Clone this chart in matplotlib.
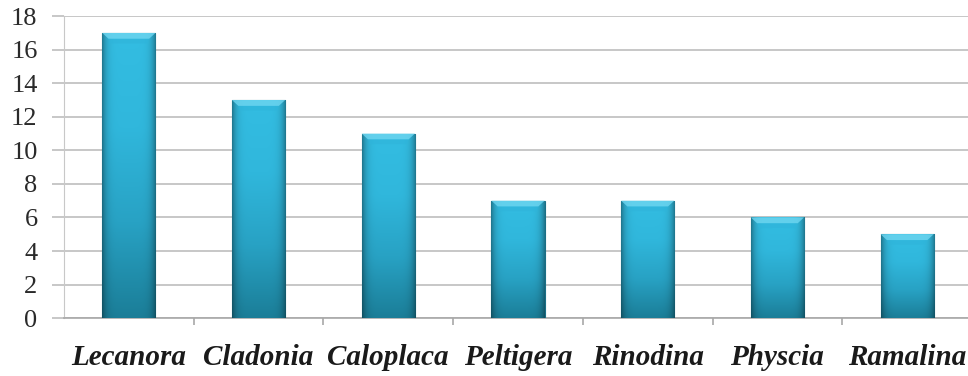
import matplotlib.pyplot as plt
import numpy as np
from matplotlib.colors import LinearSegmentedColormap

genera = ['Lecanora', 'Cladonia', 'Caloplaca', 'Peltigera', 'Rinodina', 'Physcia', 'Ramalina']
counts = [17, 13, 11, 7, 7, 6, 5]
yticks = np.arange(0, 19, 2)

fig = plt.figure(figsize=(9.68, 3.76), dpi=100)
ax = fig.add_axes([0.0661, 0.154, 0.938, 0.803])

x = np.arange(len(genera))
bw = 0.41
bars = ax.bar(x, counts, width=bw, color='#2aa9cc', edgecolor='#1a6f86', linewidth=0.8, zorder=3)

# shade each bar: light cyan at the top fading to teal, darker towards the sides
vert = LinearSegmentedColormap.from_list('v', ['#1b7e98', '#28a2c4', '#30b7dc', '#33bde2'])
gy = np.linspace(0, 1, 200)[:, None]
gx = np.linspace(-1, 1, 60)[None, :]
shade = vert(gy[::-1] * np.ones_like(gx))
side = 1 - 0.35 * np.abs(gx) ** 6
shade[..., :3] *= side[..., None]
for b in bars:
    x0, y0 = b.get_x(), b.get_y()
    w, h = b.get_width(), b.get_height()
    im = ax.imshow(shade, extent=(x0, x0 + w, y0, y0 + h), aspect='auto', zorder=3.5,
                   origin='upper')
    im.set_clip_path(b)
    # bevelled cap
    cap = 0.35
    ax.fill([x0, x0 + w, x0 + w * 0.88, x0 + w * 0.12], [h, h, h - cap, h - cap],
            color='#6fd6f0', alpha=0.8, zorder=4, lw=0)
    ax.fill([x0 + w * 0.12, x0 + w * 0.88, x0 + w * 0.85, x0 + w * 0.15],
            [h - cap, h - cap, h - cap * 1.8, h - cap * 1.8],
            color='#2fb4da', alpha=0.6, zorder=4, lw=0)

ax.set_xlim(-0.5, len(genera) - 0.5)
ax.set_ylim(0, 18)
ax.set_yticks(yticks)
ax.yaxis.grid(True, color='#bdbdbd', linewidth=1.2, zorder=0)
ax.set_axisbelow(True)

for s in ['top', 'right']:
    ax.spines[s].set_visible(False)
ax.spines['left'].set_color('#c8c8c8')
ax.spines['bottom'].set_color('#a8a8a8')
ax.spines['bottom'].set_linewidth(1.2)

ax.set_xticks(x)
ax.set_xticklabels(genera, fontfamily='Liberation Serif', fontstyle='italic',
                   fontweight='bold', fontsize=21, color='#1a1a1a')
ax.set_xticks(np.arange(0.5, len(genera) - 0.5, 1), minor=True)
ax.tick_params(axis='x', which='major', length=0, pad=19)
ax.tick_params(axis='x', which='minor', length=5, color='#a8a8a8', width=1.2)
ax.tick_params(axis='y', length=9, color='#bdbdbd', width=1.2, pad=10, labelsize=19,
               labelcolor='#2a2a2a')
for t in ax.get_yticklabels():
    t.set_fontfamily('Liberation Serif')

fig.savefig('out.png', dpi=100)
